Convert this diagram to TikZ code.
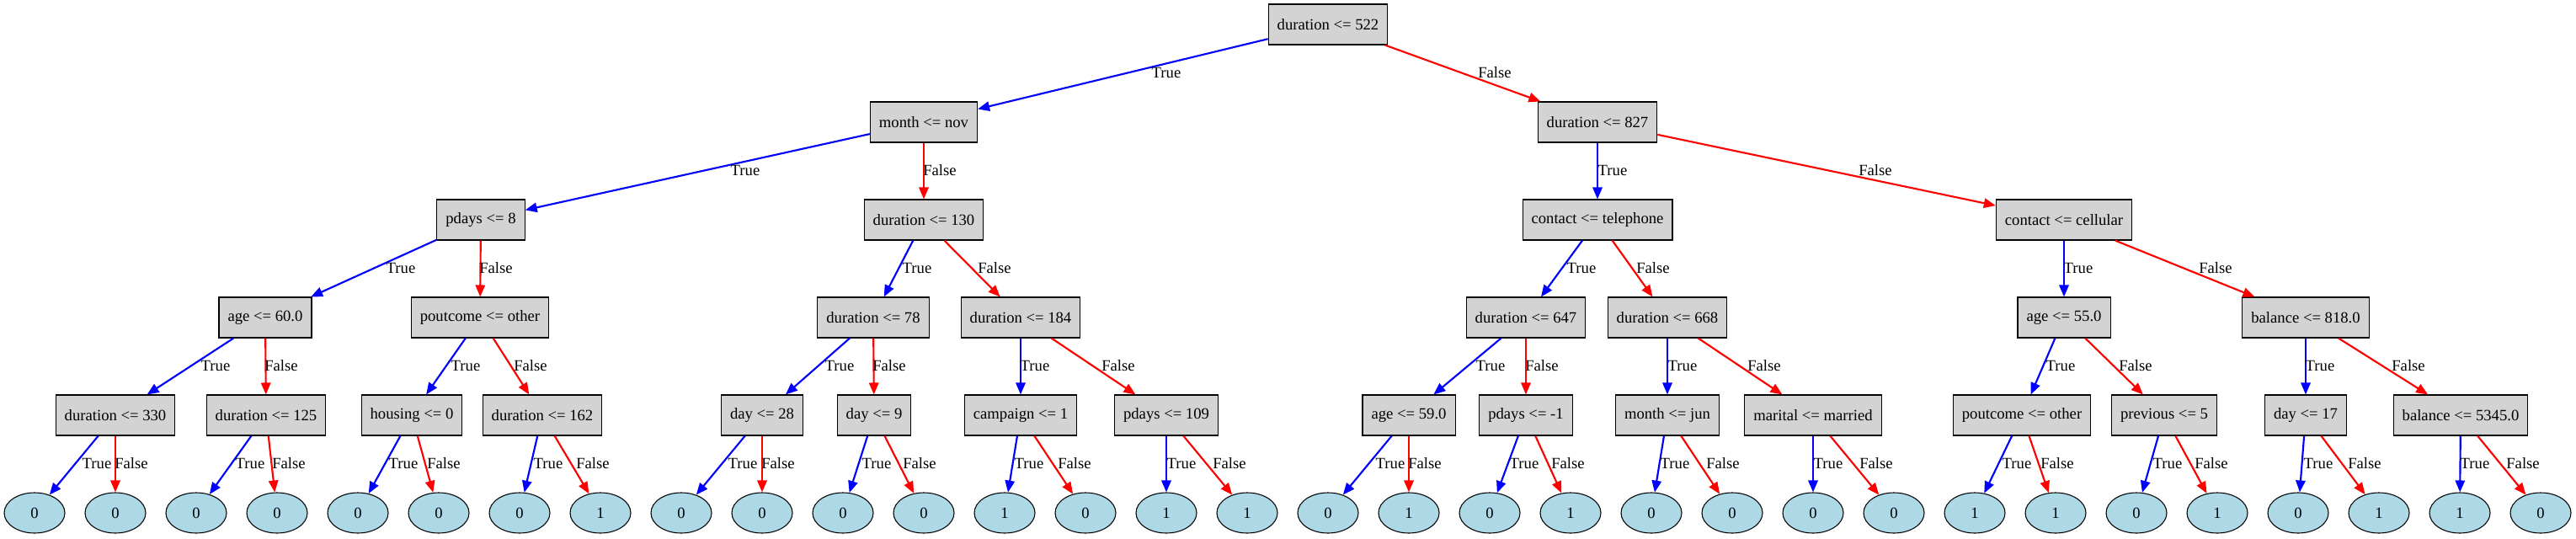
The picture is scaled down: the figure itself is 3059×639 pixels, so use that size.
\documentclass[tikz,border=0pt]{standalone}
\usepackage{fontspec}
\setmainfont{Liberation Serif}
\usetikzlibrary{arrows.meta,shapes.geometric}
\definecolor{boxgray}{HTML}{D3D3D3}
\definecolor{leafblue}{HTML}{ADD8E6}
\definecolor{tblue}{HTML}{0000FF}
\definecolor{fred}{HTML}{FF0000}
\begin{document}
\begin{tikzpicture}[x=0.75pt,y=-0.75pt,
  every node/.style={font=\fontsize{14pt}{16pt}\selectfont},
  dbox/.style={draw=black, line width=0.8pt, fill=boxgray, rectangle, minimum height=36pt, minimum width=54pt, inner xsep=7.9pt, inner ysep=0pt},
  leaf/.style={draw=black, line width=0.8pt, fill=leafblue, ellipse, minimum width=54pt, minimum height=36pt, inner sep=0pt},
  tedge/.style={draw=tblue, line width=1.6pt, -{Triangle[length=10.5pt,width=8.5pt]}},
  fedge/.style={draw=fred, line width=1.6pt, -{Triangle[length=10.5pt,width=8.5pt]}},
  lbl/.style={inner sep=0pt}
]
\useasboundingbox (0,0) rectangle (3059,639);

% level 0
\node[dbox] (n0) at (1577,29) {duration <= 522};
% level 1
\node[dbox] (n1) at (1097,145) {month <= nov};
\node[dbox] (n2) at (1897,145) {duration <= 827};
% level 2
\node[dbox] (n3) at (571,261) {pdays <= 8};
\node[dbox] (n4) at (1097,261) {duration <= 130};
\node[dbox] (n5) at (1897,261) {contact <= telephone};
\node[dbox] (n6) at (2451,261) {contact <= cellular};
% level 3
\node[dbox] (n7) at (315,377) {age <= 60.0};
\node[dbox] (n8) at (570,377) {poutcome <= other};
\node[dbox] (n9) at (1037,377) {duration <= 78};
\node[dbox] (n10) at (1212,377) {duration <= 184};
\node[dbox] (n11) at (1812,377) {duration <= 647};
\node[dbox] (n12) at (1980,377) {duration <= 668};
\node[dbox] (n13) at (2451,377) {age <= 55.0};
\node[dbox] (n14) at (2738,377) {balance <= 818.0};
% level 4
\node[dbox] (m0) at (137,493) {duration <= 330};
\node[dbox] (m1) at (316,493) {duration <= 125};
\node[dbox] (m2) at (489,493) {housing <= 0};
\node[dbox] (m3) at (644,493) {duration <= 162};
\node[dbox] (m4) at (905,493) {day <= 28};
\node[dbox] (m5) at (1038,493) {day <= 9};
\node[dbox] (m6) at (1212,493) {campaign <= 1};
\node[dbox] (m7) at (1385,493) {pdays <= 109};
\node[dbox] (m8) at (1673,493) {age <= 59.0};
\node[dbox] (m9) at (1812,493) {pdays <= -1};
\node[dbox] (m10) at (1980,493) {month <= jun};
\node[dbox] (m11) at (2153,493) {marital <= married};
\node[dbox] (m12) at (2401,493) {poutcome <= other};
\node[dbox] (m13) at (2570,493) {previous <= 5};
\node[dbox] (m14) at (2738,493) {day <= 17};
\node[dbox] (m15) at (2922,493) {balance <= 5345.0};
% leaves
\foreach \v [count=\k from 0] in {0,0,0,0,0,0,0,1,0,0,0,0,1,0,1,1,0,1,0,1,0,0,0,0,1,1,0,1,0,1,1,0}
  \node[leaf] (l\k) at ({41+96*\k},609) {\v};

% upper edges with labels: parent/true child/false child/label y/true label x/false label x
\foreach \p/\a/\b/\ly/\tx/\fx in {
  n0/n1/n2/86/1385/1775,
  n1/n3/n4/202/885/1116,
  n2/n5/n6/202/1915/2227,
  n3/n7/n8/318/476/589,
  n4/n9/n10/318/1089/1181,
  n5/n11/n12/318/1878/1963,
  n6/n13/n14/318/2468/2631,
  n7/m0/m1/434/256/334,
  n8/m2/m3/434/553/630,
  n9/m4/m5/434/997/1056,
  n10/m6/m7/434/1229/1328,
  n11/m8/m9/434/1770/1831,
  n12/m10/m11/434/1998/2095,
  n13/m12/m13/434/2447/2536,
  n14/m14/m15/434/2755/2860}{
  \draw[tedge] (\p) -- (\a);
  \draw[fedge] (\p) -- (\b);
  \node[lbl] (t\a) at (\tx,\ly) {True};
  \node[lbl] (f\b) at (\fx,\ly) {False};
}
% edges to leaves
\foreach \j/\tx/\fx in {0/115/156,1/297/343,2/479/527,3/651/704,4/882/924,5/1041/1092,6/1222/1276,7/1403/1460,8/1651/1692,9/1810/1862,10/1989/2046,11/2171/2228,12/2395/2443,13/2574/2626,14/2753/2808,15/2939/2996}{
  \pgfmathtruncatemacro\la{2*\j}
  \pgfmathtruncatemacro\lb{2*\j+1}
  \draw[tedge] (m\j) -- (l\la);
  \draw[fedge] (m\j) -- (l\lb);
  \node[lbl] (tl\la) at (\tx,550) {True};
  \node[lbl] (fl\lb) at (\fx,550) {False};
}
\end{tikzpicture}
\end{document}
